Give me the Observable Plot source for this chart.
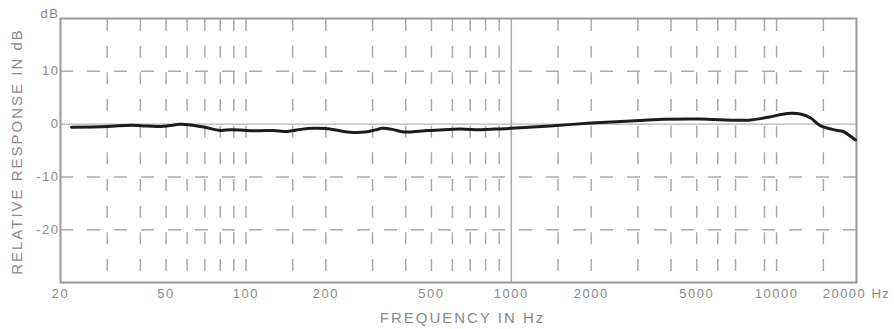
<!DOCTYPE html>
<html>
<head>
<meta charset="utf-8">
<script src="https://cdn.jsdelivr.net/npm/d3@7"></script>
<script src="https://cdn.jsdelivr.net/npm/@observablehq/plot@0.6"></script>
<style>
  html, body { margin: 0; padding: 0; background: #fff; }
  .title text { letter-spacing: 2px; }
</style>
</head>
<body>
<div id="chart"></div>
<script>
// Frequency response (Hz, dB)
const freqs = [22,30,37,41,47,53,56,62,70,80,88,100,113,127,143,161,180,200,228,247,282,308,327,356,394,461,539,641,765,872,1000,1400,2000,2820,3740,5130,7860,9300,11000,12300,13400,14600,16900,17800,19800];
const dbs = [-0.6,-0.45,-0.2,-0.35,-0.45,-0.2,-0.05,-0.15,-0.6,-1.2,-1.05,-1.2,-1.25,-1.2,-1.4,-1.0,-0.8,-0.85,-1.3,-1.55,-1.5,-1.1,-0.8,-1.0,-1.5,-1.3,-1.1,-0.95,-1.05,-0.95,-0.8,-0.35,0.2,0.6,0.9,0.95,0.75,1.3,2.0,1.9,1.2,-0.3,-1.2,-1.4,-3.0];

// Axis ticks & grid
const xTickLabels = [20,50,100,200,500,1000,2000,5000,10000,20000];
const yTickLabels = [10,0,-10,-20];
const vGrid = [30,40,50,60,70,80,90,100,150,200,300,400,500,600,700,800,900,1500,2000,3000,4000,5000,6000,7000,9000,10000,15000];
const hGrid = [10,-10,-20];
const xTitle = "FREQUENCY IN Hz";
const yTitle = "RELATIVE RESPONSE IN dB";
const yUnit = "dB";

const data = freqs.map((f, i) => ({f, db: dbs[i]}));

const chart = Plot.plot({
  width: 894,
  height: 329,
  marginLeft: 60,
  marginRight: 38,
  marginTop: 18,
  marginBottom: 47,
  style: {fontFamily: "'Liberation Sans', Arial, sans-serif", color: "#8a8a8a", background: "#fff", letterSpacing: "1.5px"},
  x: {type: "log", domain: [20, 20000], axis: null},
  y: {domain: [-30, 20], axis: null},
  marks: [
    Plot.ruleX(vGrid, {stroke: "#aaa", strokeWidth: 1.5, strokeDasharray: "12,14.67", strokeDashoffset: 25.67}),
    Plot.ruleY(hGrid, {stroke: "#aaa", strokeWidth: 1.5, strokeDasharray: "13,14"}),
    Plot.ruleY([0], {stroke: "#b3b3b3", strokeWidth: 1.4}),
    Plot.ruleX([1000], {stroke: "#aaa", strokeWidth: 1.5}),
    Plot.frame({stroke: "#999", strokeWidth: 2}),
    Plot.line(data, {x: "f", y: "db", stroke: "#1c1c1c", strokeWidth: 3, curve: "catmull-rom"}),
    Plot.text(xTickLabels, {x: d => d, frameAnchor: "bottom", lineAnchor: "middle", dy: 11, textAnchor: "middle",
      text: d => d === 20000 ? "20000 Hz" : String(d), fontSize: 13, fill: "#8a8a8a"}),
    Plot.text(yTickLabels, {y: d => d, frameAnchor: "left", textAnchor: "end", lineAnchor: "middle", dx: -1,
      text: d => String(d), fontSize: 13, fill: "#8a8a8a"}),
    Plot.text([yUnit], {x: 20, y: 20, text: d => d, textAnchor: "end", dx: -1, dy: -5, fontSize: 13, fill: "#8a8a8a"}),
    Plot.text([yTitle], {frameAnchor: "left", text: d => d, rotate: -90, textAnchor: "middle", lineAnchor: "middle", dx: -43, dy: 1, fontSize: 15, fill: "#8a8a8a", className: "title"}),
    Plot.text([xTitle], {frameAnchor: "bottom", text: d => d, textAnchor: "middle", lineAnchor: "middle", dx: 4, dy: 36, fontSize: 15, fill: "#8a8a8a", className: "title"})
  ]
});
document.getElementById("chart").appendChild(chart);
</script>
</body>
</html>
